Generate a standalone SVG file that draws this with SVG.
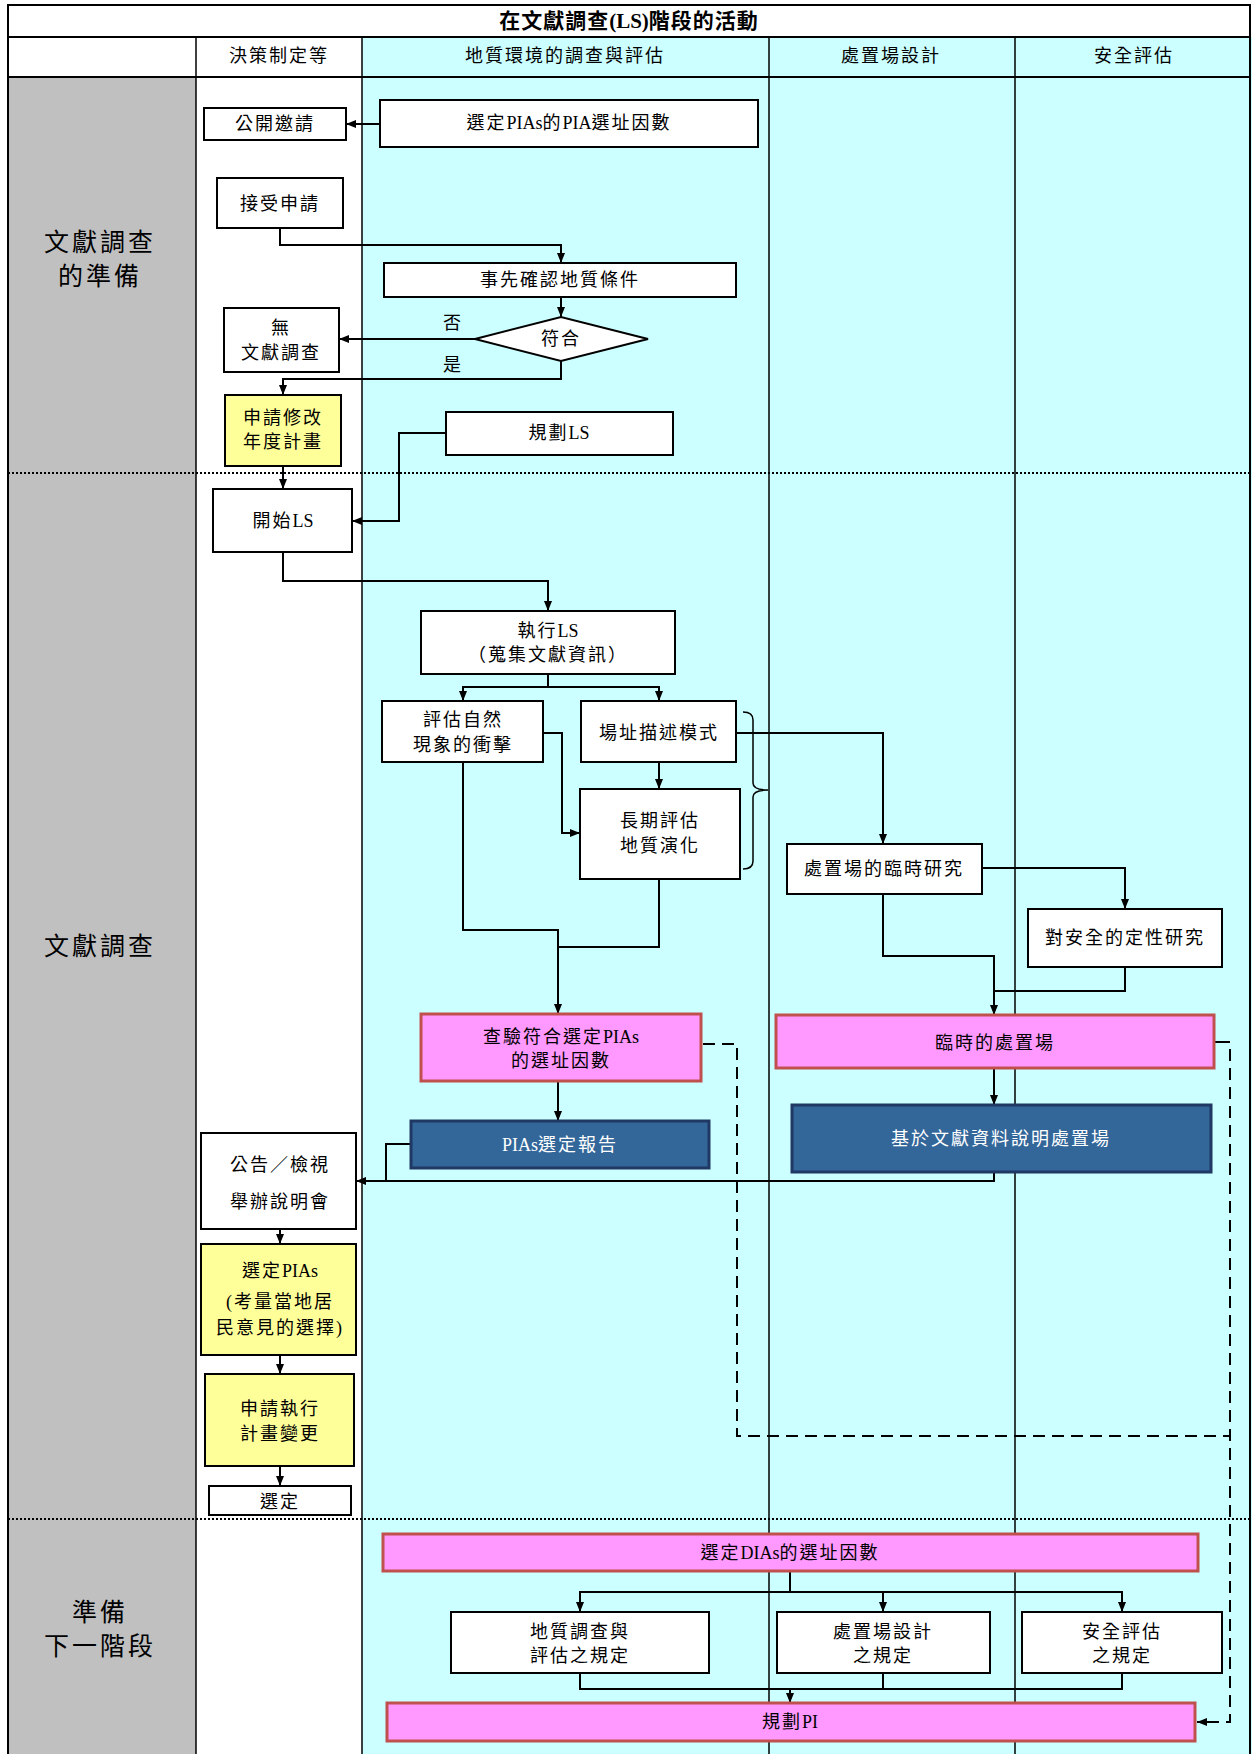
<svg xmlns="http://www.w3.org/2000/svg" width="1252" height="1754" viewBox="0 0 1252 1754">
  <style>
    .t { font-family: "Liberation Serif", "Noto Sans CJK TC", serif; font-size: 18px; letter-spacing: 2px; text-anchor: middle; dominant-baseline: central; fill: #000; }
    .l { letter-spacing: 0; }
    .ttl { font-size: 21px; font-weight: bold; letter-spacing: 1px; }
    .sec { font-size: 25px; letter-spacing: 3px; }
    .w { fill: #fff; }
    .box { fill: #fff; stroke: #000; stroke-width: 2; }
    .yel { fill: #FFFF99; stroke: #000; stroke-width: 2; }
    .pink { fill: #FF99FF; stroke: #C0504D; stroke-width: 3; }
    .blue { fill: #336699; stroke: #1F3864; stroke-width: 3; }
    .col { stroke: #000; stroke-width: 1.5; }
    .sep { stroke: #000; stroke-width: 2; stroke-dasharray: 2 2; }
    .c { fill: none; stroke: #000; stroke-width: 2; }
    .d { fill: none; stroke: #000; stroke-width: 2; stroke-dasharray: 12 7; }
  </style>
  <defs>
    <marker id="ah" viewBox="0 0 10 8" refX="10" refY="4" markerWidth="10" markerHeight="8" markerUnits="userSpaceOnUse" orient="auto">
      <path d="M0,0 L10,4 L0,8 z" fill="#000"/>
    </marker>
  </defs>

  <!-- lane backgrounds -->
  <g id="lanes">
    <rect x="0" y="0" width="1252" height="1754" fill="#fff"/>
    <rect x="362" y="37" width="890" height="1717" fill="#CCFFFF"/>
    <rect x="8" y="77" width="188" height="1677" fill="#C0C0C0"/>
    <line class="col" x1="196" y1="37" x2="196" y2="1754"/>
    <line class="col" x1="362" y1="37" x2="362" y2="1754"/>
    <line class="col" x1="769" y1="37" x2="769" y2="1754"/>
    <line class="col" x1="1015" y1="37" x2="1015" y2="1754"/>
    <line x1="8" y1="37" x2="1251" y2="37" stroke="#000" stroke-width="2"/>
    <line x1="8" y1="77" x2="1251" y2="77" stroke="#000" stroke-width="2"/>
    <rect x="8" y="5" width="1242" height="1750" fill="none" stroke="#000" stroke-width="2"/>
    <line class="sep" x1="8" y1="473" x2="1251" y2="473"/>
    <line class="sep" x1="8" y1="1519" x2="1251" y2="1519"/>
  </g>

  <!-- headings -->
  <g id="headings">
    <text class="t ttl" x="629" y="21">在文獻調查<tspan class="l">(LS)</tspan>階段的活動</text>
    <text class="t" x="279" y="56">決策制定等</text>
    <text class="t" x="565" y="56">地質環境的調查與評估</text>
    <text class="t" x="891" y="56">處置場設計</text>
    <text class="t" x="1134" y="56">安全評估</text>
    <text class="t sec" x="100" y="242">文獻調查</text>
    <text class="t sec" x="100" y="276">的準備</text>
    <text class="t sec" x="100" y="946">文獻調查</text>
    <text class="t sec" x="100" y="1612">準備</text>
    <text class="t sec" x="100" y="1646">下一階段</text>
  </g>

  <!-- connectors -->
  <g id="connectors">
    <polyline class="c" points="380,124 346,124" marker-end="url(#ah)"/>
    <polyline class="c" points="280,228 280,245 561,245 561,263" marker-end="url(#ah)"/>
    <polyline class="c" points="561,297 561,317" marker-end="url(#ah)"/>
    <polyline class="c" points="475,339 339,339" marker-end="url(#ah)"/>
    <polyline class="c" points="561,361 561,379 283,379 283,395" marker-end="url(#ah)"/>
    <polyline class="c" points="446,433 399,433 399,521 352,521" marker-end="url(#ah)"/>
    <polyline class="c" points="283,466 283,489" marker-end="url(#ah)"/>
    <polyline class="c" points="283,552 283,581 548,581 548,611" marker-end="url(#ah)"/>
    <polyline class="c" points="548,674 548,687 463,687 463,701" marker-end="url(#ah)"/>
    <polyline class="c" points="548,687 659,687 659,701" marker-end="url(#ah)"/>
    <polyline class="c" points="659,762 659,789" marker-end="url(#ah)"/>
    <polyline class="c" points="543,733 562,733 562,833 580,833" marker-end="url(#ah)"/>
    <polyline class="c" points="736,733 883,733 883,844" marker-end="url(#ah)"/>
    <polyline class="c" points="982,868 1125,868 1125,909" marker-end="url(#ah)"/>
    <polyline class="c" points="883,894 883,956 994,956 994,1015" marker-end="url(#ah)"/>
    <polyline class="c" points="1125,967 1125,991 994,991"/>
    <polyline class="c" points="463,762 463,930 558,930 558,1014" marker-end="url(#ah)"/>
    <polyline class="c" points="659,879 659,947 558,947"/>
    <polyline class="c" points="558,1081 558,1121" marker-end="url(#ah)"/>
    <polyline class="c" points="994,1068 994,1105" marker-end="url(#ah)"/>
    <polyline class="c" points="994,1172 994,1181 356,1181" marker-end="url(#ah)"/>
    <polyline class="c" points="411,1144 386,1144 386,1181"/>
    <polyline class="c" points="280,1229 280,1244" marker-end="url(#ah)"/>
    <polyline class="c" points="280,1355 280,1374" marker-end="url(#ah)"/>
    <polyline class="c" points="280,1466 280,1486" marker-end="url(#ah)"/>
    <polyline class="c" points="790,1571 790,1592"/>
    <polyline class="c" points="883,1592 580,1592 580,1612" marker-end="url(#ah)"/>
    <polyline class="c" points="883,1592 1122,1592 1122,1612" marker-end="url(#ah)"/>
    <polyline class="c" points="883,1592 883,1612" marker-end="url(#ah)"/>
    <polyline class="c" points="580,1673 580,1689 1122,1689 1122,1673"/>
    <polyline class="c" points="883,1673 883,1689"/>
    <polyline class="c" points="790,1689 790,1703" marker-end="url(#ah)"/>
    <polyline class="d" points="703,1044 737,1044 737,1436 1230,1436"/>
    <polyline class="c" points="1214,1042 1230,1042"/>
    <polyline class="d" points="1230,1049 1230,1722 1197,1722" marker-end="url(#ah)"/>
    <!-- brace grouping the two modelling tasks -->
    <path d="M743,712 Q753,712 753,720 L753,783 Q753,790 768,790 Q753,790 753,797 L753,861 Q753,869 743,869" fill="none" stroke="#000" stroke-width="1.5"/>
  </g>

  <!-- nodes -->
  <g id="n-open-call"><rect class="box" x="204" y="108" width="142" height="32"/><text class="t" x="275" y="124">公開邀請</text></g>
  <g id="n-pia-factors"><rect class="box" x="380" y="100" width="378" height="47"/><text class="t" x="569" y="123">選定<tspan class="l">PIAs</tspan>的<tspan class="l">PIA</tspan>選址因數</text></g>
  <g id="n-accept"><rect class="box" x="217" y="178" width="126" height="50"/><text class="t" x="280" y="204">接受申請</text></g>
  <g id="n-precheck"><rect class="box" x="384" y="263" width="352" height="34"/><text class="t" x="560" y="280">事先確認地質條件</text></g>
  <g id="n-match"><polygon points="475,339 561,317 648,339 561,361" fill="#fff" stroke="#000" stroke-width="2"/><text class="t" x="561" y="339">符合</text></g>
  <g id="n-labels"><text class="t" x="453" y="323">否</text><text class="t" x="453" y="365">是</text></g>
  <g id="n-no-ls"><rect class="box" x="224" y="308" width="115" height="64"/><text class="t" x="281" y="328">無</text><text class="t" x="281" y="353">文獻調查</text></g>
  <g id="n-amend-plan"><rect class="yel" x="225" y="395" width="116" height="71"/><text class="t" x="283" y="418">申請修改</text><text class="t" x="283" y="442">年度計畫</text></g>
  <g id="n-plan-ls"><rect class="box" x="446" y="412" width="227" height="43"/><text class="t" x="559" y="433">規劃<tspan class="l">LS</tspan></text></g>
  <g id="n-start-ls"><rect class="box" x="213" y="489" width="139" height="63"/><text class="t" x="283" y="521">開始<tspan class="l">LS</tspan></text></g>
  <g id="n-run-ls"><rect class="box" x="421" y="611" width="254" height="63"/><text class="t" x="548" y="631">執行<tspan class="l">LS</tspan></text><text class="t" x="548" y="655">（蒐集文獻資訊）</text></g>
  <g id="n-impact"><rect class="box" x="382" y="701" width="161" height="61"/><text class="t" x="463" y="720">評估自然</text><text class="t" x="463" y="745">現象的衝擊</text></g>
  <g id="n-site-model"><rect class="box" x="581" y="701" width="155" height="61"/><text class="t" x="659" y="733">場址描述模式</text></g>
  <g id="n-evolution"><rect class="box" x="580" y="789" width="160" height="90"/><text class="t" x="660" y="821">長期評估</text><text class="t" x="660" y="846">地質演化</text></g>
  <g id="n-interim-study"><rect class="box" x="787" y="844" width="195" height="50"/><text class="t" x="884" y="869">處置場的臨時研究</text></g>
  <g id="n-safety-study"><rect class="box" x="1028" y="909" width="194" height="58"/><text class="t" x="1125" y="938">對安全的定性研究</text></g>
  <g id="n-check-pias"><rect class="pink" x="421" y="1014" width="280" height="67"/><text class="t" x="561" y="1037">查驗符合選定<tspan class="l">PIAs</tspan></text><text class="t" x="561" y="1061">的選址因數</text></g>
  <g id="n-interim-repo"><rect class="pink" x="776" y="1015" width="438" height="53"/><text class="t" x="995" y="1043">臨時的處置場</text></g>
  <g id="n-pia-report"><rect class="blue" x="411" y="1121" width="298" height="47"/><text class="t w" x="560" y="1145"><tspan class="l">PIAs</tspan>選定報告</text></g>
  <g id="n-repo-desc"><rect class="blue" x="792" y="1105" width="419" height="67"/><text class="t w" x="1001" y="1139">基於文獻資料說明處置場</text></g>
  <g id="n-announce"><rect class="box" x="201" y="1133" width="155" height="96"/><text class="t" x="280" y="1165">公告／檢視</text><text class="t" x="280" y="1202">舉辦說明會</text></g>
  <g id="n-select-pias"><rect class="yel" x="201" y="1244" width="155" height="111"/><text class="t" x="280" y="1271">選定<tspan class="l">PIAs</tspan></text><text class="t" x="280" y="1302">(考量當地居</text><text class="t" x="280" y="1328">民意見的選擇)</text></g>
  <g id="n-amend-exec"><rect class="yel" x="205" y="1374" width="149" height="92"/><text class="t" x="280" y="1409">申請執行</text><text class="t" x="280" y="1434">計畫變更</text></g>
  <g id="n-selected"><rect class="box" x="209" y="1486" width="142" height="29"/><text class="t" x="280" y="1502">選定</text></g>
  <g id="n-dia-factors"><rect class="pink" x="383" y="1534" width="815" height="37"/><text class="t" x="790" y="1553">選定<tspan class="l">DIAs</tspan>的選址因數</text></g>
  <g id="n-geo-rules"><rect class="box" x="451" y="1612" width="258" height="61"/><text class="t" x="580" y="1632">地質調查與</text><text class="t" x="580" y="1656">評估之規定</text></g>
  <g id="n-design-rules"><rect class="box" x="777" y="1612" width="213" height="61"/><text class="t" x="883" y="1632">處置場設計</text><text class="t" x="883" y="1656">之規定</text></g>
  <g id="n-safety-rules"><rect class="box" x="1022" y="1612" width="200" height="61"/><text class="t" x="1122" y="1632">安全評估</text><text class="t" x="1122" y="1656">之規定</text></g>
  <g id="n-plan-pi"><rect class="pink" x="387" y="1703" width="808" height="38"/><text class="t" x="790" y="1722">規劃<tspan class="l">PI</tspan></text></g>
</svg>
